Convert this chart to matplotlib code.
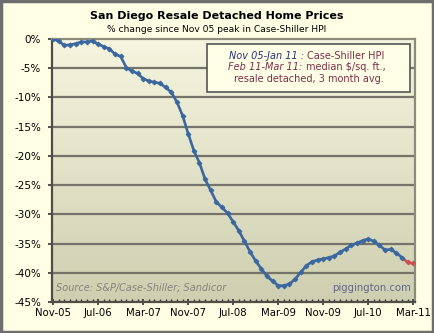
import numpy as np
import matplotlib
matplotlib.use("Agg")
import matplotlib.pyplot as plt
from matplotlib.patches import Rectangle
from matplotlib.ticker import MultipleLocator

# -------------------------
# DATA (% change since Nov 05 peak)
# -------------------------
# Case-Shiller HPI, Nov-05 .. Jan-11 (monthly)
cs_values = [
    0.0, -0.4, -1.1, -1.0, -0.8, -0.5, -0.5, -0.35, -0.9, -1.3,
    -1.7, -2.6, -3.0, -4.9, -5.5, -5.9, -6.8, -7.2, -7.4, -7.6,
    -8.3, -9.1, -10.8, -13.1, -16.2, -19.1, -21.2, -24.0, -25.9, -27.9,
    -28.8, -29.8, -31.3, -32.8, -34.6, -36.4, -38.0, -39.3, -40.6, -41.4,
    -42.2, -42.2, -41.9, -41.1, -39.9, -38.8, -38.1, -37.8, -37.6, -37.4,
    -37.1, -36.5, -35.9, -35.3, -34.9, -34.5, -34.2, -34.6, -35.3, -36.1,
    -36.0, -36.6, -37.4,
]
# Sandicor median $/sq.ft. resale detached, 3 month avg, Feb-11 .. Mar-11
sd_values = [-38.2, -38.4]

tick_labels = ["Nov-05", "Jul-06", "Mar-07", "Nov-07", "Jul-08",
               "Mar-09", "Nov-09", "Jul-10", "Mar-11"]
y_ticks = [0, -5, -10, -15, -20, -25, -30, -35, -40, -45]

BLUE = "#3A679F"
RED = "#C9514F"
BG = "#FFFFE6"

# -------------------------
# FIGURE
# -------------------------
fig = plt.figure(figsize=(4.34, 3.33), dpi=100, facecolor=BG)
fig.patches.append(Rectangle((0.003, 0.004), 0.994, 0.992, transform=fig.transFigure,
                             fill=False, edgecolor="#6E6E6E", linewidth=2.5))

ax = fig.add_axes([0.120, 0.093, 0.836, 0.790])

# gradient plot area
grad = np.linspace(0, 1, 256).reshape(-1, 1)
top_c = np.array(matplotlib.colors.to_rgb("#F6F6E0"))
bot_c = np.array(matplotlib.colors.to_rgb("#CECEB0"))
img = top_c + (bot_c - top_c) * grad[:, :, None]
ax.imshow(img, extent=[0, 1, 0, 1], transform=ax.transAxes, aspect="auto", zorder=0)

x_cs = np.arange(len(cs_values))
x_sd = np.arange(len(cs_values), len(cs_values) + len(sd_values))

ax.plot(x_cs, cs_values, color=BLUE, lw=1.9, marker="D", ms=2.6, mew=0.5, zorder=3)
ax.plot(np.r_[x_cs[-1], x_sd], np.r_[cs_values[-1], sd_values], color=RED, lw=1.9, zorder=2)
ax.plot(x_sd, sd_values, color=RED, lw=0, marker="D", ms=2.6, mew=0.5, zorder=3)

ax.set_xlim(-0.2, len(cs_values) + len(sd_values) - 0.7)
ax.set_ylim(-45, 0)

ax.set_yticks(y_ticks)
ax.set_yticklabels([f"{v}%" for v in y_ticks])
for v in y_ticks[1:-1]:
    ax.axhline(v, color="#74746A", lw=1.6, zorder=1)

ax.set_xticks(np.arange(0, len(tick_labels) * 8, 8))
ax.set_xticklabels(tick_labels)
ax.xaxis.set_minor_locator(MultipleLocator(1))

ax.tick_params(axis="x", which="major", direction="inout", length=5, width=1.2,
               labelsize=7.3, pad=2, color="#333333")
ax.tick_params(axis="x", which="minor", direction="in", length=2.5, width=1,
               color="#333333")
ax.tick_params(axis="y", direction="out", length=3, width=1.2, labelsize=7.5,
               pad=5, color="#333333")

for side in ["left", "bottom"]:
    ax.spines[side].set_color("#4E4E46")
    ax.spines[side].set_linewidth(1.6)
for side in ["top", "right"]:
    ax.spines[side].set_color("#8C8C7C")
    ax.spines[side].set_linewidth(1.6)

# -------------------------
# TEXT
# -------------------------
fig.text(0.5, 0.952, "San Diego Resale Detached Home Prices", ha="center", va="center",
         fontsize=8, fontweight="bold")
fig.text(0.5, 0.91, "% change since Nov 05 peak in Case-Shiller HPI", ha="center",
         va="center", fontsize=6.6)

ax.text(0.012, 0.053, "Source: S&P/Case-Shiller; Sandicor", transform=ax.transAxes,
        fontsize=7, style="italic", color="#85857C", va="center", ha="left")
ax.text(0.99, 0.053, "piggington.com", transform=ax.transAxes, fontsize=7.3,
        color="#66668A", va="center", ha="right")

# legend box
fig.patches.append(Rectangle((0.477, 0.724), 0.468, 0.144, transform=fig.transFigure,
                             facecolor="#FFFFE8", edgecolor="#555555", linewidth=1.2,
                             zorder=5))
NAVY = "#27327A"
MAROON = "#7E2E46"
split = 0.708
fig.text(split, 0.833, "Nov 05-Jan 11 : ", ha="right", va="center", fontsize=7,
         style="italic", color=NAVY, zorder=6)
fig.text(split, 0.833, "Case-Shiller HPI", ha="left", va="center", fontsize=7,
         color=MAROON, zorder=6)
fig.text(split - 0.004, 0.799, "Feb 11-Mar 11: ", ha="right", va="center", fontsize=7,
         style="italic", color=MAROON, zorder=6)
fig.text(split - 0.004, 0.799, "median $/sq. ft.,", ha="left", va="center", fontsize=7,
         color=MAROON, zorder=6)
fig.text(0.711, 0.763, "resale detached, 3 month avg.", ha="center", va="center",
         fontsize=7, color=MAROON, zorder=6)

fig.savefig("out.png", dpi=100, facecolor=BG)
